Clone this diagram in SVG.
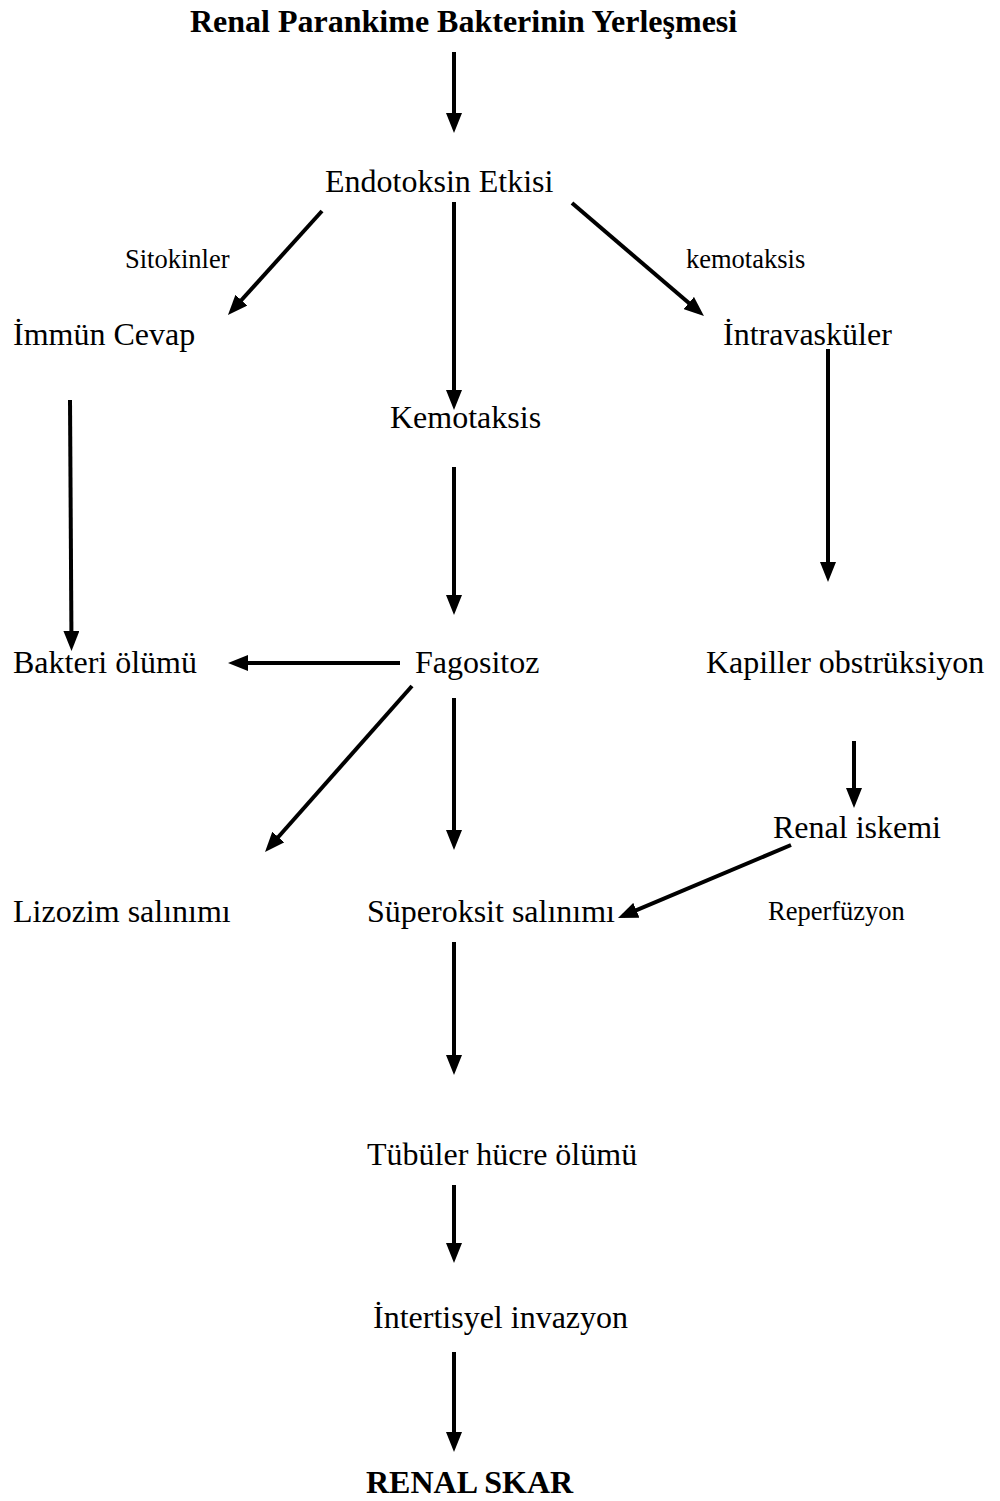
<svg xmlns="http://www.w3.org/2000/svg" width="1000" height="1501" viewBox="0 0 1000 1501">
<style>
text{font-family:"Liberation Serif","Times New Roman",serif;fill:#000}
.n{font-size:32px}
.b{font-size:32px;font-weight:bold}
.s{font-size:26.5px}
.c line{stroke:#000;stroke-width:4;marker-end:url(#ah)}
</style>
<defs>
<marker id="ah" markerUnits="userSpaceOnUse" markerWidth="20" markerHeight="16" refX="14" refY="8" orient="auto">
<path d="M0,0 L20,8 L0,16 z" fill="#000"/>
</marker>
</defs>
<rect width="1000" height="1501" fill="#fff"/>
<g class="c" id="connectors">
<line x1="454" y1="52" x2="454" y2="127"/>
<line x1="322" y1="211" x2="232" y2="310.5"/>
<line x1="454" y1="202" x2="454" y2="404"/>
<line x1="572" y1="203" x2="699.4" y2="312.1"/>
<line x1="70" y1="400" x2="71.5" y2="645"/>
<line x1="828" y1="349" x2="828" y2="576"/>
<line x1="454" y1="467" x2="454" y2="609"/>
<line x1="400" y1="663" x2="234" y2="663"/>
<line x1="412" y1="686" x2="269" y2="847.5"/>
<line x1="454" y1="698" x2="454" y2="844"/>
<line x1="854" y1="741" x2="854" y2="802"/>
<line x1="791" y1="845" x2="623.5" y2="915.7"/>
<line x1="454" y1="942" x2="454" y2="1069"/>
<line x1="454" y1="1185" x2="454" y2="1257"/>
<line x1="454" y1="1352" x2="454" y2="1446"/>
</g>
<g id="n-title"><text class="b" x="190" y="32">Renal Parankime Bakterinin Yerleşmesi</text></g>
<g id="n-endotoksin"><text class="n" x="325" y="192">Endotoksin Etkisi</text></g>
<g id="l-sitokinler"><text class="s" x="125" y="268">Sitokinler</text></g>
<g id="l-kemotaksis"><text class="s" x="686" y="268">kemotaksis</text></g>
<g id="n-immun"><text class="n" x="13" y="345">İmmün Cevap</text></g>
<g id="n-intravaskuler"><text class="n" x="723" y="345">İntravasküler</text></g>
<g id="n-kemotaksis"><text class="n" x="390" y="428">Kemotaksis</text></g>
<g id="n-bakteri"><text class="n" x="13" y="673">Bakteri ölümü</text></g>
<g id="n-fagositoz"><text class="n" x="415" y="673">Fagositoz</text></g>
<g id="n-kapiller"><text class="n" x="706" y="673">Kapiller obstrüksiyon</text></g>
<g id="n-renaliskemi"><text class="n" x="773" y="838">Renal iskemi</text></g>
<g id="l-reperfuzyon"><text class="s" x="768" y="920">Reperfüzyon</text></g>
<g id="n-lizozim"><text class="n" x="13" y="922">Lizozim salınımı</text></g>
<g id="n-superoksit"><text class="n" x="367" y="922">Süperoksit salınımı</text></g>
<g id="n-tubuler"><text class="n" x="367" y="1165">Tübüler hücre ölümü</text></g>
<g id="n-intertisyel"><text class="n" x="373" y="1328">İntertisyel invazyon</text></g>
<g id="n-renalskar"><text class="b" x="366" y="1493">RENAL SKAR</text></g>
</svg>
